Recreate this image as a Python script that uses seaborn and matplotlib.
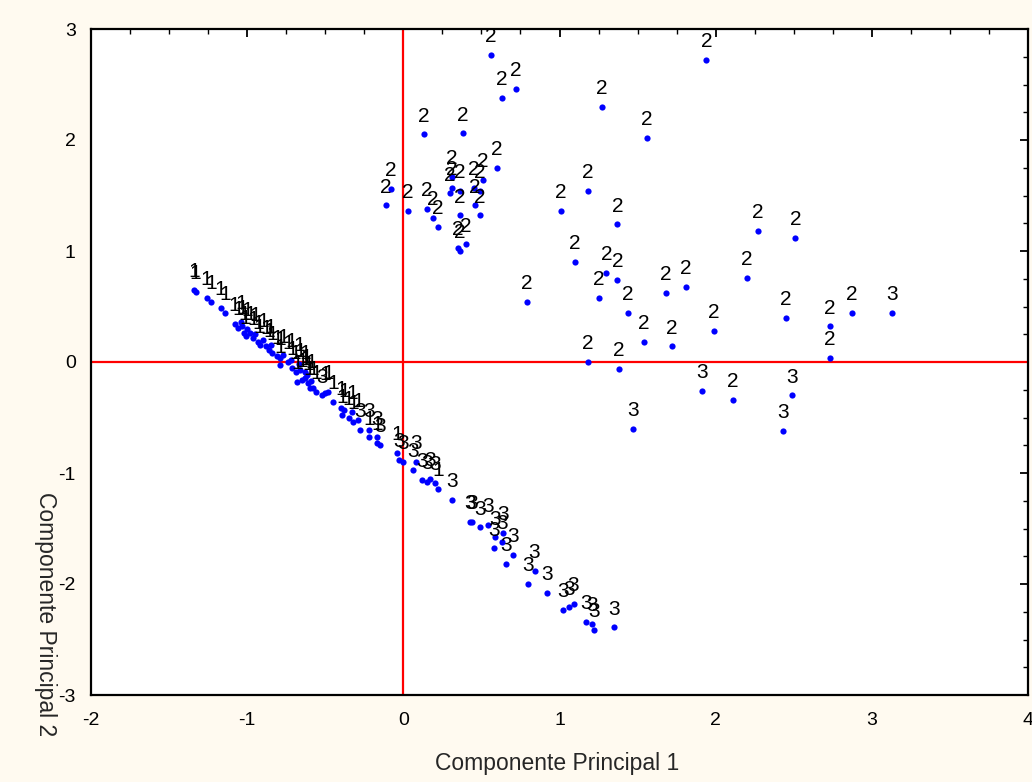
import numpy as np
import pandas as pd
import matplotlib
matplotlib.use("Agg")
import matplotlib.pyplot as plt
from matplotlib.ticker import MultipleLocator
import seaborn as sns

# ---- data ----
x1 = [-1.34, -1.33, -1.26, -1.23, -1.17, -1.14, -1.08, -1.06, -1.04, -1.03, -1.02, -1.01, -1.00,
      -0.98, -0.96, -0.95, -0.93, -0.92, -0.90, -0.88, -0.86, -0.85, -0.84, -0.81, -0.79, -0.79,
      -0.77, -0.74, -0.72, -0.71, -0.69, -0.67, -0.66, -0.63, -0.68, -0.65, -0.63, -0.62, -0.61,
      -0.60, -0.59, -0.58, -0.56, -0.50, -0.48, -0.45, -0.40, -0.39, -0.38, -0.35, -0.33, -0.32,
      -0.29, -0.22, -0.17, -0.04, 0.22]
y1 = [0.65, 0.63, 0.58, 0.54, 0.49, 0.44, 0.34, 0.31, 0.36, 0.32, 0.26, 0.23, 0.30,
      0.26, 0.22, 0.25, 0.18, 0.15, 0.20, 0.14, 0.11, 0.15, 0.08, 0.05, 0.04, -0.03,
      0.06, 0.00, 0.02, -0.05, -0.09, -0.02, -0.07, -0.09, -0.18, -0.16, -0.14, -0.12, -0.19,
      -0.23, -0.17, -0.23, -0.27, -0.28, -0.27, -0.36, -0.41, -0.48, -0.43, -0.50, -0.45, -0.54,
      -0.52, -0.68, -0.73, -0.82, -1.14]

x2 = [0.56, 0.63, 0.72, 0.13, 0.38, 0.60, -0.08, -0.11, 0.03, 0.15, 0.19, 0.22, 0.31, 0.31,
      0.30, 0.36, 0.51, 0.45, 0.49, 0.36, 0.46, 0.49, 0.35, 0.36, 0.40, 1.94, 1.27, 1.56, 1.18,
      1.01, 1.37, 2.27, 2.51, 1.10, 1.30, 1.37, 2.20, 0.79, 1.25, 1.44, 1.68, 1.81, 2.45, 2.73,
      2.87, 1.54, 1.72, 1.99, 2.73, 1.18, 1.38, 2.11]
y2 = [2.77, 2.38, 2.46, 2.05, 2.06, 1.75, 1.56, 1.41, 1.36, 1.38, 1.30, 1.22, 1.67, 1.57,
      1.52, 1.54, 1.64, 1.57, 1.54, 1.32, 1.41, 1.32, 1.03, 1.00, 1.06, 2.72, 2.30, 2.02, 1.54,
      1.36, 1.24, 1.18, 1.12, 0.90, 0.80, 0.74, 0.76, 0.54, 0.58, 0.44, 0.62, 0.68, 0.40, 0.32,
      0.44, 0.18, 0.14, 0.28, 0.04, 0.00, -0.06, -0.34]

x3 = [-0.52, -0.28, -0.22, -0.17, -0.15, -0.03, 0.00, 0.06, 0.08, 0.12, 0.15, 0.17, 0.20, 0.31,
      0.43, 0.44, 0.49, 0.54, 0.59, 0.58, 0.64, 0.63, 0.66, 0.70, 0.80, 0.84, 0.92, 1.02, 1.06,
      1.09, 1.17, 1.21, 1.22, 1.35, 3.13, 1.91, 2.49, 2.43, 1.47]
y3 = [-0.30, -0.61, -0.61, -0.68, -0.75, -0.88, -0.90, -0.97, -0.90, -1.06, -1.08, -1.05, -1.09,
      -1.24, -1.44, -1.44, -1.49, -1.47, -1.58, -1.68, -1.54, -1.62, -1.82, -1.74, -2.00, -1.88,
      -2.08, -2.23, -2.21, -2.18, -2.34, -2.36, -2.41, -2.39, 0.44, -0.26, -0.30, -0.62, -0.60]

group_labels = ["1", "2", "3"]
x_ticks = [-2, -1, 0, 1, 2, 3, 4]
y_ticks = [-3, -2, -1, 0, 1, 2, 3]
x_title = "Componente Principal 1"
y_title = "Componente Principal 2"

df = pd.DataFrame({
    "pc1": x1 + x2 + x3,
    "pc2": y1 + y2 + y3,
    "grupo": [group_labels[0]] * len(x1) + [group_labels[1]] * len(x2) + [group_labels[2]] * len(x3),
})

# ---- style ----
sns.set_style("white")
plt.rcParams["font.family"] = ["Liberation Sans", "DejaVu Sans"]

bg = "#FFFAF0"
fig = plt.figure(figsize=(10.32, 7.82), dpi=100, facecolor=bg)
ax = fig.add_axes([91 / 1032, 1 - 695 / 782, 937 / 1032, 666 / 782])
ax.set_facecolor("white")

ax.axvline(0, color="#FF0000", lw=1.6, zorder=1)
ax.axhline(0, color="#FF0000", lw=1.6, zorder=1)

sns.scatterplot(data=df, x="pc1", y="pc2", color="#0000FF", s=20, linewidth=0,
                ax=ax, zorder=3, legend=False)

for _, r in df.iterrows():
    ax.annotate(r["grupo"], (r["pc1"], r["pc2"]), xytext=(0, 9.2), textcoords="offset points",
                ha="center", va="baseline", fontsize=15, color="black", zorder=4,
                annotation_clip=False)

ax.set_xlim(x_ticks[0], x_ticks[-1])
ax.set_ylim(y_ticks[0], y_ticks[-1])
ax.set_xticks(x_ticks)
ax.set_yticks(y_ticks)
ax.set_xticklabels([str(t) for t in x_ticks])
ax.set_yticklabels([str(t) for t in y_ticks])
ax.xaxis.set_minor_locator(MultipleLocator(0.25))
ax.yaxis.set_minor_locator(MultipleLocator(0.25))
ax.tick_params(which="major", direction="in", length=6, width=1.3, colors="black",
               labelsize=14, top=True, right=True)
ax.tick_params(axis="x", which="major", pad=12)
ax.tick_params(axis="y", which="major", pad=11)
ax.tick_params(which="minor", direction="in", length=3.5, width=1.0, colors="black",
               top=True, right=True)
for s in ax.spines.values():
    s.set_visible(True)
    s.set_color("black")
    s.set_linewidth(1.6)

ax.set_xlabel(x_title, fontsize=16.5)
ax.xaxis.set_label_coords(0.497, -0.103)
ax.xaxis.label.set_va("center")
ax.set_ylabel(y_title, fontsize=16.5, rotation=270)
ax.yaxis.set_label_coords(-0.049, 0.122)
ax.yaxis.label.set_va("center")
ax.yaxis.label.set_ha("center")

fig.savefig("out.png", dpi=100, facecolor=bg)
